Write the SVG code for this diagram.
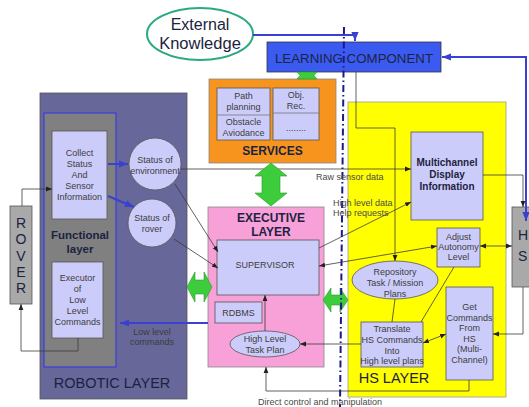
<svg xmlns="http://www.w3.org/2000/svg" width="529" height="407" viewBox="0 0 529 407">
<defs>
<marker id="ak" markerUnits="userSpaceOnUse" viewBox="0 0 10 10" refX="10" refY="5" markerWidth="6" markerHeight="6" orient="auto-start-reverse"><path d="M0,1L10,5L0,9z" fill="#222"/></marker>
<marker id="ab" markerUnits="userSpaceOnUse" viewBox="0 0 10 10" refX="10" refY="5" markerWidth="9" markerHeight="9" orient="auto-start-reverse"><path d="M0,1L10,5L0,9z" fill="#3a40d0"/></marker>
</defs>
<style>
text{font-family:"Liberation Sans",Arial,sans-serif}
.t{font-size:9px;fill:#3c3c3c;text-anchor:middle}
.l{font-size:9px;fill:#4a4a4a}
.h{fill:#1c2340;text-anchor:middle}
.b{font-weight:bold}
.box{fill:#ccccfa;stroke:#555;stroke-width:0.8}
.ln{fill:none;stroke:#3a3a3a;stroke-width:0.8}
.bl{fill:none;stroke:#3a40d0;stroke-width:2}
.gr{fill:#3ccc3c;stroke:#2a9a2a;stroke-width:0.6}
</style>
<rect width="529" height="407" fill="#fff"/>
<g id="robotic-layer"><rect x="40" y="93" width="147" height="306" fill="#67679a" stroke="#555" stroke-width="0.8"/><text x="112" y="388" class="h" font-size="14.5">ROBOTIC LAYER</text></g>
<g id="functional-layer"><rect x="44" y="113" width="72" height="254" fill="#808080" stroke="#3a3fe0" stroke-width="1.2"/><text x="80" y="238.5" class="h b" font-size="11.5">Functional</text><text x="80" y="252.5" class="h b" font-size="11.5">layer</text></g>
<g id="collect"><rect class="box" x="52" y="131" width="55" height="88"/><text class="t" x="79.5" y="156">Collect</text><text class="t" x="79.5" y="167">Status</text><text class="t" x="79.5" y="178">And</text><text class="t" x="79.5" y="189">Sensor</text><text class="t" x="79.5" y="200">Information</text></g>
<g id="executor"><rect class="box" x="52" y="262" width="51" height="76"/><text class="t" x="77.5" y="281">Executor</text><text class="t" x="77.5" y="292">of</text><text class="t" x="77.5" y="303">Low</text><text class="t" x="77.5" y="314">Level</text><text class="t" x="77.5" y="325">Commands</text></g>
<g id="status-env"><circle class="box" cx="155" cy="164" r="26"/><text class="t" x="155" y="163" font-size="8.5">Status of</text><text class="t" x="155" y="173.5" font-size="8.5">environment</text></g>
<g id="status-rover"><circle class="box" cx="152" cy="223" r="24"/><text class="t" x="152" y="221" font-size="8.5">Status of</text><text class="t" x="152" y="231.5" font-size="8.5">rover</text></g>
<g id="rover"><rect x="10" y="206" width="22" height="98" fill="#a9a9a9" stroke="#555" stroke-width="0.8"/><text class="h" font-size="14" x="21" y="228">R</text><text class="h" font-size="14" x="21" y="244">O</text><text class="h" font-size="14" x="21" y="261">V</text><text class="h" font-size="14" x="21" y="277">E</text><text class="h" font-size="14" x="21" y="293">R</text></g>
<g id="services"><rect x="209" y="79" width="127" height="84" fill="#f7941d" stroke="#888" stroke-width="0.8"/>
<rect class="box" x="217" y="88" width="53" height="52"/><line x1="217" y1="115" x2="270" y2="115" stroke="#777" stroke-width="0.8"/>
<rect class="box" x="273" y="88" width="46" height="52"/><line x1="273" y1="113" x2="319" y2="113" stroke="#777" stroke-width="0.8"/>
<text class="t" x="243.5" y="99">Path</text><text class="t" x="243.5" y="110">planning</text><text class="t" x="243.5" y="125">Obstacle</text><text class="t" x="243.5" y="135.5">Aviodance</text>
<text class="t" x="296" y="98">Obj.</text><text class="t" x="296" y="109">Rec.</text><text class="t" x="296" y="131" font-size="7">........</text>
<text class="h b" x="272.5" y="155" font-size="12">SERVICES</text></g>
<g id="learning"><rect x="267" y="42" width="174" height="30" fill="#3b5bf0" stroke="#334" stroke-width="0.8"/><text class="h" x="354" y="63" font-size="13.3">LEARNING COMPONENT</text></g>
<g id="external"><ellipse cx="200" cy="34" rx="53" ry="26" fill="#fff" stroke="#2aaa80" stroke-width="2"/><text class="h" x="200" y="30" font-size="16">External</text><text class="h" x="200" y="48.5" font-size="16.5">Knowledge</text></g>
<g id="executive"><rect x="208" y="207" width="116" height="160" fill="#f8a0d8" stroke="#888" stroke-width="0.8"/><text class="h b" x="271" y="222" font-size="12">EXECUTIVE</text><text class="h b" x="271" y="236" font-size="12">LAYER</text></g>
<g id="supervisor"><rect class="box" x="217" y="240" width="102" height="55"/><text class="t" x="265" y="268" font-size="9.5">SUPERVISOR</text></g>
<g id="rdbms"><rect class="box" x="215" y="302" width="47" height="21"/><text class="t" x="238.5" y="316">RDBMS</text></g>
<g id="hltp"><ellipse class="box" cx="265" cy="344" rx="35" ry="13"/><text class="t" x="265" y="342" font-size="9.5">High Level</text><text class="t" x="265" y="352.5" font-size="9.5">Task Plan</text></g>
<g id="hs-layer"><rect x="348" y="102" width="158" height="295" fill="#ffff00" stroke="#999" stroke-width="0.8"/><text class="h" x="394" y="383" font-size="14.5">HS LAYER</text></g>
<g id="multichannel"><rect class="box" x="411" y="132" width="72" height="88"/><text class="h b" x="447" y="166" font-size="10" fill="#111">Multichannel</text><text class="h b" x="447" y="178" font-size="10">Display</text><text class="h b" x="447" y="190" font-size="10">Information</text></g>
<g id="adjust"><rect class="box" x="437" y="228" width="43" height="39"/><text class="t" x="458.5" y="240">Adjust</text><text class="t" x="458.5" y="250">Autonomy</text><text class="t" x="458.5" y="260">Level</text></g>
<g id="repository"><ellipse class="box" cx="395" cy="280" rx="43" ry="19"/><text class="t" x="395" y="275">Repository</text><text class="t" x="395" y="286">Task / Mission</text><text class="t" x="395" y="297">Plans</text></g>
<g id="translate"><rect class="box" x="361" y="322" width="62" height="45"/><text class="t" x="392" y="332">Translate</text><text class="t" x="392" y="343">HS Commands</text><text class="t" x="392" y="353.5">Into</text><text class="t" x="392" y="364">High level plans</text></g>
<g id="getcmd"><rect class="box" x="446" y="287" width="47" height="93"/><text class="t" x="469.5" y="310">Get</text><text class="t" x="469.5" y="321">Commands</text><text class="t" x="469.5" y="331">From</text><text class="t" x="469.5" y="342">HS</text><text class="t" x="469.5" y="352">(Multi-</text><text class="t" x="469.5" y="363">Channel)</text></g>
<g id="hs"><rect x="512" y="207" width="30" height="80" fill="#a9a9a9" stroke="#555" stroke-width="0.8"/><text x="518" y="240" font-size="14" fill="#1c2340">H</text><text x="518" y="261" font-size="14" fill="#1c2340">S</text></g>
<g id="connectors">
<path class="bl" d="M253,35H355V41" stroke-width="1.5" marker-end="url(#ab)"/>
<path class="bl" d="M442,57H526V221" marker-start="url(#ab)" marker-end="url(#ab)"/>
<path class="ln" d="M356,72V128H395V261" marker-end="url(#ak)"/>
<path class="ln" d="M22,206V189H52" marker-end="url(#ak)"/>
<path class="ln" d="M78,338V351H21V304" marker-end="url(#ak)"/>
<path class="bl" d="M108,164H128" stroke-width="2.5" marker-end="url(#ab)"/>
<path class="bl" d="M108,196L134,207" stroke-width="2.5" marker-end="url(#ab)"/>
<path class="ln" d="M175,184L218,252" marker-end="url(#ak)"/>
<path class="ln" d="M174,239L218,268" marker-end="url(#ak)"/>
<path class="ln" d="M181,169H411" marker-end="url(#ak)"/>
<path class="ln" d="M319,248L411,202" marker-end="url(#ak)"/>
<path class="ln" d="M319,266L437,246" marker-start="url(#ak)" marker-end="url(#ak)"/>
<path class="ln" d="M480,246H512" marker-start="url(#ak)" marker-end="url(#ak)"/>
<path class="ln" d="M483,175H523V207" marker-end="url(#ak)"/>
<path class="ln" d="M454,267L421,322"/>
<path class="ln" d="M395,299L392,322"/>
<path class="ln" d="M423,343L446,334" marker-start="url(#ak)" marker-end="url(#ak)"/>
<path class="ln" d="M523,287V334H493" marker-end="url(#ak)"/>
<path class="ln" d="M361,344H300" marker-end="url(#ak)"/>
<path class="ln" d="M265,331V295" marker-end="url(#ak)"/>
<path class="ln" d="M469,380V391H266V367" marker-end="url(#ak)"/>
<path class="bl" d="M208,323H120" marker-end="url(#ab)"/>
<polygon class="gr" points="297,72 317,72 314,75.5 317,79 297,79 300,75.5"/>
<polygon class="gr" points="271,163 287,176 280,176 280,193 287,193 271,206 255,193 262,193 262,176 255,176"/>
<polygon class="gr" points="187,287 195,272 195,280 204,280 204,272 212,287 204,302 204,294 195,294 195,302"/>
<polygon class="gr" points="323,300 331,288 331,295 340,295 340,288 348,300 340,312 340,305 331,305 331,312"/>
<line x1="344" y1="27" x2="340" y2="407" stroke="#1a1a8c" stroke-width="2" stroke-dasharray="7 3 1.5 3"/>
<text class="l" x="316" y="180">Raw sensor data</text>
<text class="l" x="333" y="206">High level data</text>
<text class="l" x="333" y="216">Help requests</text>
<text class="t" x="152" y="335" fill="#2a2a50">Low level</text>
<text class="t" x="152" y="345" fill="#2a2a50">commands</text>
<text class="l" x="258" y="405">Direct control and manipulation</text>
</g>
</svg>
